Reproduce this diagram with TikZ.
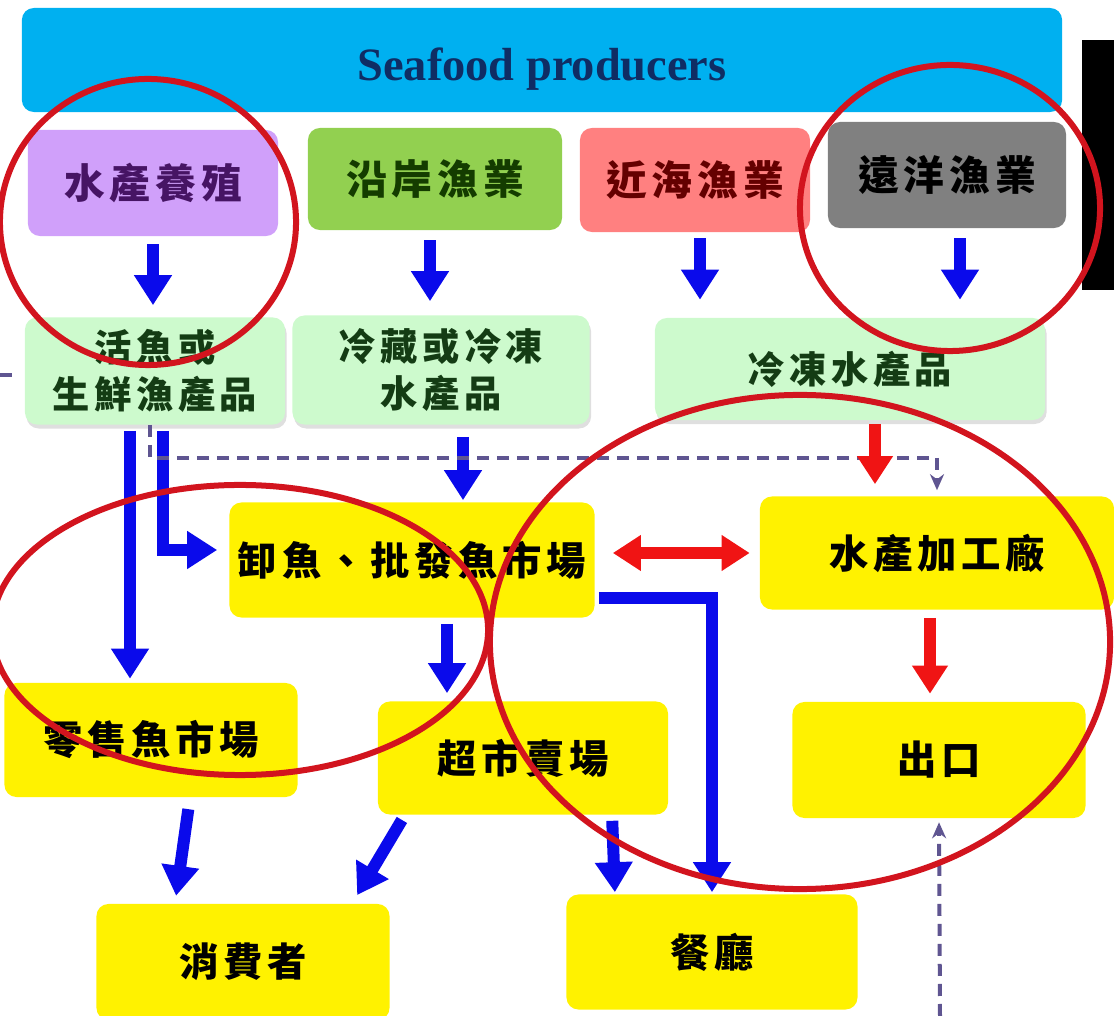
\documentclass[tikz,border=0pt]{standalone}
\usepackage{fontspec}
\setmainfont{Liberation Serif}
\newfontfamily\cjk{Noto Sans CJK TC}[LetterSpace=12]
\usetikzlibrary{arrows.meta,shadows}

\definecolor{barblue}{RGB}{0,176,240}
\definecolor{navytext}{RGB}{15,45,100}
\definecolor{farmpurple}{RGB}{208,160,250}
\definecolor{coastgreen}{RGB}{146,208,80}
\definecolor{nearpink}{RGB}{255,128,128}
\definecolor{deepgray}{RGB}{128,128,128}
\definecolor{paleleaf}{RGB}{205,250,205}
\definecolor{flowblue}{RGB}{10,10,235}
\definecolor{flowred}{RGB}{240,20,20}
\definecolor{ringred}{RGB}{210,20,30}
\definecolor{dashpurple}{RGB}{95,85,145}

\begin{document}
\begin{tikzpicture}[
    x=0.025cm, y=-0.025cm,
    dims/.style 2 args={minimum width=#1cm, minimum height=#2cm},
    box/.style={rounded corners=0.3cm, inner sep=0pt, align=center,
        font=\cjk\bfseries\fontsize{28}{36}\selectfont},
    source/.style={box, font=\cjk\bfseries\fontsize{29}{36}\selectfont},
    goods/.style={box, fill=paleleaf, text={rgb,255:red,20;green,60;blue,20},
        font=\cjk\bfseries\fontsize{26.5}{33}\selectfont,
        drop shadow={opacity=0.25, shadow xshift=0.04cm, shadow yshift=-0.1cm}},
    market/.style={box, fill=yellow, text=black},
    flow/.style={line width=0.3cm, flowblue,
        -{Triangle[width=0.9cm,length=0.75cm]}},
    hot/.style={line width=0.28cm, flowred,
        -{Triangle[width=0.85cm,length=0.7cm]}},
    dashed line/.style={dashpurple, line width=0.1cm,
        dash pattern=on 0.3cm off 0.2cm},
    dashline/.style={dashed line, -{Stealth[length=0.4cm,width=0.35cm]}},
    ring/.style={ringred, line width=0.15cm}
]
\useasboundingbox (0,0) rectangle (1114,1016);

% producers
\node[box, fill=barblue, dims={26}{2.6}, text=navytext, text height=1.3cm, text depth=0.25cm,
    font=\bfseries\fontsize{33}{40}\selectfont] (producers) at (542,60) {Seafood producers};
\node[source, fill=farmpurple, dims={6.25}{2.65}, text={rgb,255:red,70;green,20;blue,100}] (farm) at (153,183) {水產養殖};
\node[source, fill=coastgreen, dims={6.35}{2.55}, text={rgb,255:red,20;green,60;blue,0}] (coast) at (435,179) {沿岸漁業};
\node[source, fill=nearpink, dims={5.75}{2.6}, text={rgb,255:red,100;green,0;blue,0}] (near) at (695,180) {近海漁業};
\node[source, fill=deepgray, dims={5.95}{2.65}, text=black] (deep) at (947,175) {遠洋漁業};

% products
\node[goods, dims={6.5}{2.675}] (fresh) at (155,371) {活魚或\\生鮮漁產品};
\node[goods, dims={7.425}{2.725}] (chill) at (441,370) {冷藏或冷凍\\水產品};
\node[goods, dims={9.75}{2.55}] (frozen) at (850,369) {冷凍水產品};

% markets
\node[market, dims={9.125}{2.875}] (wholesale) at (412,560) {卸魚、批發魚市場};
\node[market, dims={8.85}{2.825}] (plant) at (937,553) {水產加工廠};
\node[market, dims={7.325}{2.85}] (retail) at (151,740) {零售魚市場};
\node[market, dims={7.25}{2.825}] (super) at (523,758) {超市賣場};
\node[market, dims={7.325}{2.9}] (export) at (939,760) {出口};
\node[market, dims={7.325}{2.9}] (consumer) at (243,962) {消費者};
\node[market, dims={7.275}{2.875}] (dining) at (712,952) {餐廳};

\coordinate (freshin) at (0,375);
\coordinate (dashrow) at (0,458);
\coordinate (exportin) at (940,1016);

% flows
\draw[flow, shorten <=0.2cm, shorten >=0.3cm] (farm.south) -- (farm.south |- fresh.north);
\draw[flow, shorten <=0.25cm, shorten >=0.35cm] ([xshift=-0.125cm]coast.south) -- ([xshift=-0.125cm]coast.south |- chill.north);
\draw[flow, shorten <=0.15cm, shorten >=0.45cm] ([xshift=0.125cm]near.south) -- ([xshift=0.125cm]near.south |- frozen.north);
\draw[flow, shorten <=0.25cm, shorten >=0.45cm] ([xshift=0.325cm]deep.south) -- ([xshift=0.325cm]deep.south |- frozen.north);

\draw[flow, shorten <=0.15cm, shorten >=0.1cm] ([xshift=-0.625cm]fresh.south) -- ([xshift=-0.625cm]fresh.south |- retail.north);
\draw[flow, shorten <=0.15cm, shorten >=0.3cm] ([xshift=0.2cm]fresh.south) |- ([yshift=0.25cm]wholesale.west);
\draw[flow, shorten <=0.3cm, shorten >=0.05cm] ([xshift=0.55cm]chill.south) -- ([xshift=0.55cm]chill.south |- wholesale.north);
\draw[dashline, shorten >=0.15cm] ([xshift=-0.125cm]fresh.south) |- (plant.north |- dashrow) -- (plant.north);
\draw[dashed line, shorten >=0.15cm] (freshin) -- (freshin -| fresh.west);

\draw[hot, shorten <=0.1cm, shorten >=0.3cm] ([xshift=0.625cm]frozen.south) -- ([xshift=0.625cm]frozen.south |- plant.north);
\draw[hot, {Triangle[width=0.85cm,length=0.7cm]}-{Triangle[width=0.85cm,length=0.7cm]},
    shorten <=0.45cm, shorten >=0.25cm] (wholesale.east |- plant.west) -- (plant.west);
\draw[hot, shorten <=0.2cm, shorten >=0.2cm] ([xshift=-0.175cm]plant.south) -- ([xshift=-0.175cm]plant.south |- export.north);

\draw[flow, shorten <=0.15cm, shorten >=0.2cm] ([xshift=0.875cm]wholesale.south) -- ([xshift=0.875cm]wholesale.south |- super.north);
\draw[flow, shorten <=0.1cm, shorten >=0.05cm] ([yshift=-0.95cm]wholesale.east) -| (dining.north);

\draw[flow, shorten <=0.3cm, shorten >=0.2cm] ([xshift=0.975cm]retail.south) -- ([xshift=-1.7cm]consumer.north);
\draw[flow, shorten <=0.15cm, shorten >=0.25cm] ([xshift=-2.95cm]super.south) -- ([xshift=2.725cm]consumer.north);
\draw[flow, shorten <=0.15cm, shorten >=0.05cm] ([xshift=2.225cm]super.south) -- ([xshift=-2.425cm]dining.north);
\draw[dashline, shorten >=0.1cm] (exportin) -- (export.south);

% side panel
\fill[black] (1082,40) rectangle (1114,290);

% highlight rings
\draw[ring] (148,222) ellipse [x radius=3.7cm, y radius=3.575cm];
\draw[ring] (950,208) ellipse [x radius=3.75cm, y radius=3.575cm];
\draw[ring] (240,630) ellipse [x radius=6.2cm, y radius=3.625cm];
\draw[ring] (800,642) ellipse [x radius=7.75cm, y radius=6.175cm];
\end{tikzpicture}
\end{document}
